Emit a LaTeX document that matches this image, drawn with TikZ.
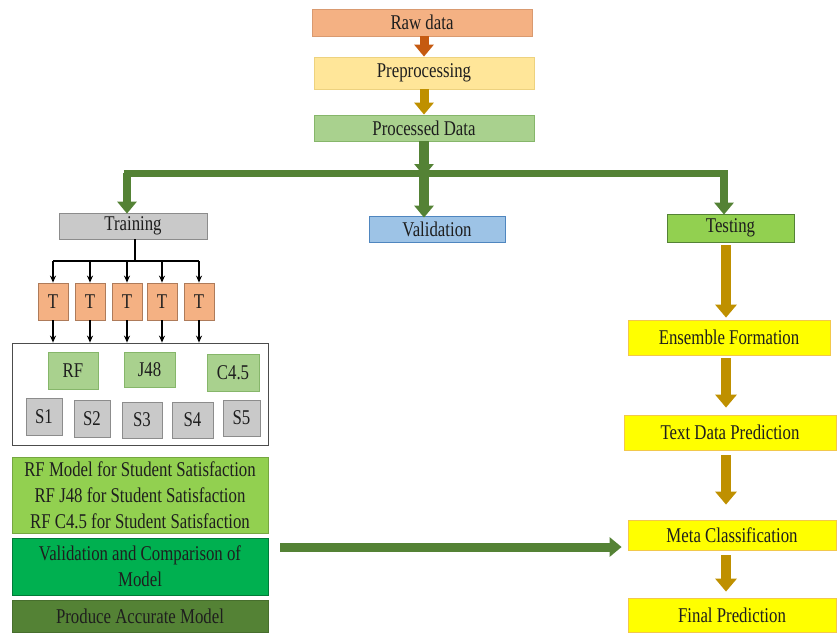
\documentclass[tikz,border=0pt]{standalone}
\usepackage{fontspec}
\newfontfamily\dfont{Liberation Serif}[FakeStretch=0.8]
\usetikzlibrary{arrows.meta}
\definecolor{cRaw}{HTML}{F4B183}
\definecolor{cRawB}{HTML}{D99A70}
\definecolor{cPre}{HTML}{FFE699}
\definecolor{cPreB}{HTML}{EDD27F}
\definecolor{cProc}{HTML}{A9D18E}
\definecolor{cProcB}{HTML}{86B66A}
\definecolor{cGray}{HTML}{C9C9C9}
\definecolor{cGrayB}{HTML}{8C8C8C}
\definecolor{cBlue}{HTML}{9DC3E6}
\definecolor{cBlueB}{HTML}{4F86BF}
\definecolor{cLime}{HTML}{92D050}
\definecolor{cDkGreen}{HTML}{548235}
\definecolor{cGreen}{HTML}{00B050}
\definecolor{cYellow}{HTML}{FFFF00}
\definecolor{cYellowB}{HTML}{F2C84B}
\definecolor{cOrangeArr}{HTML}{C55A11}
\definecolor{cGoldArr}{HTML}{BF9000}
\definecolor{cText}{HTML}{1E1E1E}
\tikzset{
  box/.style={rectangle, inner sep=0pt, line width=0.8pt, text=cText,
    font=\dfont\fontsize{21}{26}\selectfont, align=center},
  bigarrow/.style={line width=8pt, -{Triangle[width=19pt,length=12pt]}},
  goldarrow/.style={draw=cGoldArr, line width=10pt, -{Triangle[width=21pt,length=13pt]}},
  thin/.style={line width=1.6pt, draw=black, -{Stealth[length=7pt,width=6pt]}},
}
\begin{document}
\begin{tikzpicture}[x=1pt,y=-1pt]
\useasboundingbox (0,0) rectangle (837,632);
% top chain
\node[box, fill=cRaw, draw=cRawB, minimum width=220pt, minimum height=27pt] (raw) at (422,22.5) {Raw data};
\node[box, fill=cPre, draw=cPreB, minimum width=220pt, minimum height=32pt] (pre) at (424,73) {Preprocessing};
\node[box, fill=cProc, draw=cProcB, minimum width=220pt, minimum height=26pt] (proc) at (424,128) {Processed Data};
\draw[bigarrow, draw=cOrangeArr, line width=9pt] (raw.south -| pre.north) -- (pre.north);
\draw[bigarrow, draw=cGoldArr, line width=9pt] (pre.south) -- (proc.north);
% second level
\node[box, fill=cGray, draw=cGrayB, minimum width=148pt, minimum height=26pt] (train) at (133,226) {Training};
\node[box, fill=cBlue, draw=cBlueB, minimum width=136pt, minimum height=26pt] (valid) at (437,229) {Validation};
\node[box, fill=cLime, draw=cDkGreen, minimum width=127pt, minimum height=28pt] (test) at (730.5,228) {Testing};
\coordinate (bl) at (127,173);
\coordinate (bm) at (424,173);
\coordinate (br) at (724,173);
\draw[draw=cDkGreen, line width=7pt] ([xshift=-3.5pt]bl) -- ([xshift=3.5pt]br);
\draw[bigarrow, draw=cDkGreen, line width=10pt] (proc.south) -- ([yshift=-3pt]bm);
\draw[bigarrow, draw=cDkGreen, line width=10pt] (bm) -- ([yshift=-2pt]bm |- valid.north);
\draw[bigarrow, draw=cDkGreen] (bl) -- ([yshift=-1pt]bl |- train.north);
\draw[bigarrow, draw=cDkGreen] (br) -- ([yshift=-1pt]br |- test.north);
% right chain
\node[box, fill=cYellow, draw=cYellowB, minimum width=202pt, minimum height=35pt] (ens) at (729,337.5) {Ensemble Formation};
\node[box, fill=cYellow, draw=cYellowB, minimum width=212pt, minimum height=35pt] (tdp) at (730,432.5) {Text Data Prediction};
\node[box, fill=cYellow, draw=cYellowB, minimum width=208pt, minimum height=30pt] (meta) at (732,535) {Meta Classification};
\node[box, fill=cYellow, draw=cYellowB, minimum width=208pt, minimum height=34pt] (final) at (732,615) {Final Prediction};
\coordinate (ax) at (726,0);
\draw[goldarrow, shorten <=3pt, shorten >=2pt] (test.south -| ax) -- (ens.north -| ax);
\draw[goldarrow, shorten <=3pt, shorten >=7pt] (ens.south -| ax) -- (tdp.north -| ax);
\draw[goldarrow, shorten <=5pt, shorten >=15pt] (tdp.south -| ax) -- (meta.north -| ax);
\draw[goldarrow, shorten <=5pt, shorten >=6pt] (meta.south -| ax) -- (final.north -| ax);
% training tree
\foreach \i/\x in {1/53,2/90,3/127,4/162,5/199}{
  \node[box, fill=cRaw, draw=cRawB!80!black, minimum width=30pt, minimum height=37pt] (T\i) at (\x,301.5) {T};
}
\coordinate (tj) at (135,261);
\draw[line width=1.6pt] (train.south -| tj) -- (tj);
\draw[line width=1.6pt] (T1.north |- tj) -- (T5.north |- tj);
\node[box, draw=black!70, fill=white, minimum width=256pt, minimum height=102pt] (big) at (140,394) {};
\foreach \i in {1,...,5}{
  \draw[thin] (T\i.north |- tj) -- (T\i.north);
  \draw[thin] (T\i.south) -- (T\i.south |- big.north);
}
\node[box, fill=cProc, draw=cProcB, minimum width=50pt, minimum height=37pt] (rf) at (73,370.5) {RF};
\node[box, fill=cProc, draw=cProcB, minimum width=51pt, minimum height=35pt] (j48) at (149.5,369.5) {J48};
\node[box, fill=cProc, draw=cProcB, minimum width=52pt, minimum height=37pt] (c45) at (233,372.5) {C4.5};
\node[box, fill=cGray, draw=cGrayB, minimum width=36pt, minimum height=37pt] (s1) at (44,416.5) {S1};
\node[box, fill=cGray, draw=cGrayB, minimum width=36pt, minimum height=37pt] (s2) at (92,418.5) {S2};
\node[box, fill=cGray, draw=cGrayB, minimum width=40pt, minimum height=36pt] (s3) at (142,420) {S3};
\node[box, fill=cGray, draw=cGrayB, minimum width=41pt, minimum height=36pt] (s4) at (192.5,420) {S4};
\node[box, fill=cGray, draw=cGrayB, minimum width=37pt, minimum height=36pt] (s5) at (241.5,418) {S5};
% bottom-left stack
\node[box, fill=cLime, draw=cLime!80!black, minimum width=256pt, minimum height=76pt] (list) at (140,495)
  {RF Model for Student Satisfaction\\RF J48 for Student Satisfaction\\RF C4.5 for Student Satisfaction};
\node[box, fill=cGreen, draw=cGreen!70!black, minimum width=256pt, minimum height=57pt] (valc) at (140,566.5)
  {Validation and Comparison of\\Model};
\node[box, fill=cDkGreen, draw=cDkGreen!85!black, minimum width=256pt, minimum height=32pt] (prod) at (140,616) {Produce Accurate Model};
\coordinate (ga) at (280,547);
\draw[bigarrow, draw=cDkGreen, line width=9pt, shorten >=6pt] (ga) -- (ga -| meta.west);
\end{tikzpicture}
\end{document}
